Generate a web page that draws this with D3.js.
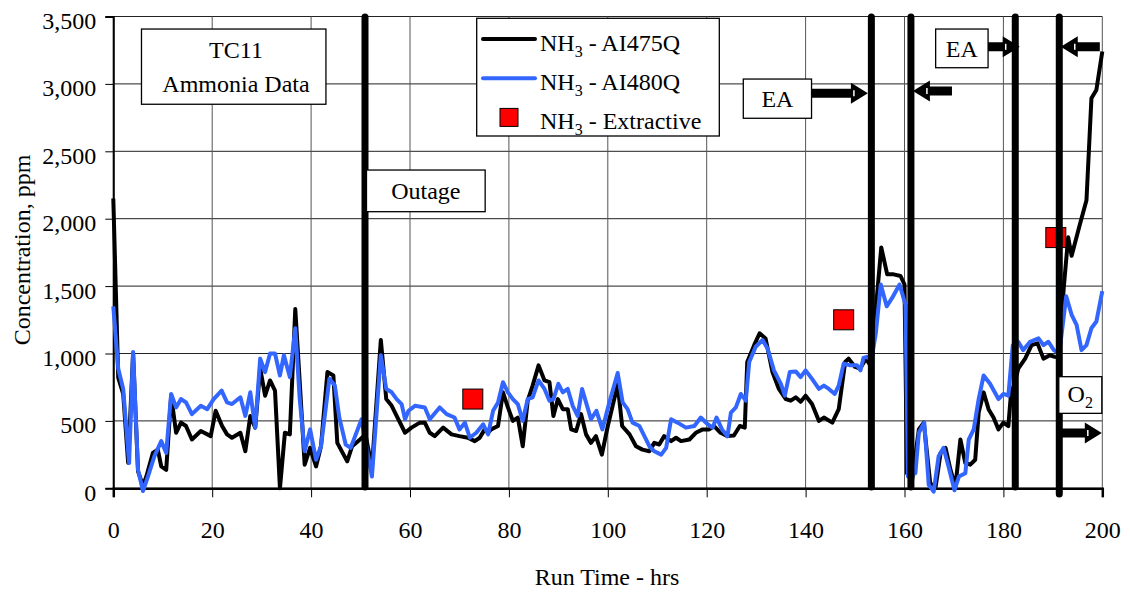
<!DOCTYPE html>
<html>
<head>
<meta charset="utf-8">
<script src="https://cdn.jsdelivr.net/npm/d3@7"></script>
<style>
  body { margin: 0; background: #fff; }
  text { font-family: "Liberation Serif", "Times New Roman", serif; fill: #000; }
</style>
</head>
<body>
<svg id="chart" width="1130" height="592"></svg>
<script>
"use strict";

// NH3 - AI475Q (black)
const hrs475 = [0, 1, 2, 3, 4, 5, 6, 6.7, 8, 9, 9.7, 10.7, 11.7, 12.7, 13.7, 14.7, 15.9, 17.7, 19.7, 20.7,
  22, 23, 24, 25.7, 26.7, 27.7, 28.7, 29.7, 30.7, 31.7, 32.7, 33.7, 34.7, 35.7, 36.8, 37.7, 38.7, 39.8, 41, 42,
  43.3, 44.5, 45.3, 47.3, 48.3, 49.9, 51, 52.3, 54.1, 55.2, 56.3, 57.3, 59, 60.3, 62, 63, 64, 65, 66.7, 68.4,
  70, 71.7, 73.1, 74.1, 75.1, 75.8, 76.4, 77.8, 78.8, 79.8, 80.8, 81.8, 82.8, 83.8, 84.8, 86, 87.2, 88.2, 89, 89.9,
  90.9, 91.9, 92.6, 93.6, 94.6, 95.6, 96.6, 97.6, 98.8, 100, 102, 102.9, 104.4, 105.7, 107, 108.4, 109.4, 110.4, 111.4, 112.8,
  113.8, 114.8, 116.5, 117.8, 119.2, 120.5, 121.5, 122.8, 124.2, 125.5, 126.7, 127.7, 128.2, 129.6, 130.7, 131.9, 133.3, 134.6, 136, 137,
  138, 139, 140, 141.3, 142.7, 143.7, 145.4, 146.7, 148, 148.7, 150, 151, 152.2, 153.3, 154.4, 155.3, 156.5, 157.8, 159.2, 160,
  160.5, 161.5, 162.9, 163.9, 165.2, 166.3, 167.3, 168.3, 169.3, 170.3, 171.3, 172.3, 173.3, 174.3, 175, 176, 177, 178, 179, 180,
  181, 181.5, 182.4, 183, 184.4, 185.7, 186.9, 188.1, 189.4, 190.4, 191.3, 192.2, 193.1, 193.8, 195.5, 196.8, 197.8, 198.8, 200];
const ppm475 = [2150, 820, 700, 190, 1000, 125, 20, 90, 262, 287, 162, 137, 687, 412, 487, 462, 362, 425, 387, 575,
  462, 400, 375, 412, 275, 537, 450, 890, 687, 800, 725, 0, 412, 400, 1330, 787, 175, 300, 162, 312,
  862, 837, 337, 200, 312, 362, 400, 150, 1100, 662, 612, 537, 412, 450, 487, 487, 412, 387, 450, 400,
  387, 375, 350, 375, 437, 412, 437, 462, 712, 600, 500, 525, 312, 650, 762, 912, 800, 787, 537, 662,
  587, 587, 437, 425, 550, 400, 337, 387, 250, 462, 770, 462, 400, 312, 287, 275, 337, 325, 387, 350,
  375, 350, 362, 412, 437, 437, 462, 412, 387, 392, 462, 450, 937, 1062, 1150, 1112, 862, 737, 662, 650,
  675, 642, 687, 625, 500, 525, 487, 587, 937, 962, 900, 887, 962, 900, 1412, 1787, 1587, 1587, 1575, 1512,
  112, 50, 437, 487, 37, 12, 262, 300, 137, 12, 362, 187, 175, 212, 562, 712, 587, 525, 437, 487,
  462, 687, 800, 887, 962, 1062, 1075, 962, 987, 975, 970, 1487, 1862, 1725, 1962, 2137, 2893, 2955, 3240];

// NH3 - AI480Q (blue)
const hrs480 = [0, 1, 2, 3.2, 4, 5, 6, 7, 8.3, 9.7, 10.7, 11.7, 12.7, 13.7, 14.7, 15.9, 17.7, 19, 20.3, 21.9,
  23, 24, 25.7, 26.7, 27.7, 28.7, 29.7, 30.7, 31.7, 32.7, 33.7, 34.5, 35.7, 36.8, 37.7, 38.7, 39.8, 41, 42, 43.7,
  44.8, 45.7, 47, 48, 50.2, 52.3, 54.1, 55.2, 56.3, 57.3, 58.3, 59, 59.7, 61, 63, 64, 66, 67.4, 69, 70,
  71.1, 72.1, 73.4, 74.8, 75.8, 76.8, 77.8, 78.8, 79.8, 80.8, 81.8, 82.8, 83.8, 84.8, 86, 87.2, 88.2, 89, 90, 90.9,
  91.9, 92.9, 93.9, 94.8, 95.6, 96.6, 97.7, 98.9, 100.3, 102, 103, 104, 105, 106.4, 107.4, 108.4, 109.4, 110.8, 111.8, 112.8,
  114.1, 115.8, 117.5, 118.8, 120.2, 121.2, 122, 123.1, 124.2, 124.9, 125.9, 126.9, 127.9, 128.6, 129.9, 131.3, 132.3, 133.6, 135, 135.8,
  136.8, 138, 139, 140, 141.3, 142.7, 143.7, 144.7, 145.9, 146.7, 147.7, 149, 150.4, 151.1, 151.7, 152.4, 153.3, 154.2, 155.2, 156.4,
  157.5, 159, 160.2, 160.7, 162.2, 162.9, 164, 164.9, 165.9, 166.9, 167.9, 168.9, 170.1, 171, 172.3, 173, 174, 175, 176, 177.3,
  179, 180, 181, 181.9, 183, 184, 185.4, 187.1, 188.1, 189.1, 190.2, 191.3, 192.7, 193.8, 194.8, 195.8, 196.8, 197.8, 198.8, 200];
const ppm480 = [1350, 887, 737, 187, 1012, 137, -20, 87, 237, 350, 262, 700, 600, 662, 637, 550, 612, 587, 662, 725,
  637, 625, 675, 537, 712, 450, 962, 862, 1000, 1000, 837, 987, 825, 1187, 662, 275, 437, 212, 312, 812,
  762, 525, 325, 300, 512, 87, 987, 737, 712, 662, 625, 512, 575, 612, 600, 512, 600, 550, 525, 437,
  487, 375, 412, 475, 400, 575, 637, 787, 712, 662, 625, 500, 662, 675, 800, 737, 650, 662, 775, 712,
  737, 612, 537, 737, 637, 512, 575, 437, 637, 855, 637, 587, 487, 462, 387, 312, 275, 250, 300, 512,
  487, 450, 462, 525, 475, 450, 525, 437, 387, 562, 600, 700, 650, 937, 1050, 1100, 1037, 875, 775, 687,
  862, 867, 825, 875, 812, 737, 762, 737, 700, 762, 925, 912, 912, 875, 967, 975, 950, 1150, 1512, 1350,
  1412, 1512, 1362, 87, 112, 412, 487, 25, -25, 237, 300, 162, -15, 87, 112, 362, 437, 662, 837, 775,
  662, 700, 687, 1062, 1087, 1025, 1087, 1112, 1062, 1087, 1025, 1000, 1425, 1287, 1212, 1025, 1062, 1187, 1237, 1462];

// NH3 - Extractive (red squares)
const hrsExtractive = [72.7, 147.7, 190.6];
const ppmExtractive = [662, 1250, 1860];

// event markers (thick vertical lines)
const eventHrs = [50.9, 153.3, 161.3, 182.4, 191.3];

const xTicks = d3.range(0, 201, 20);
const yTicks = d3.range(0, 3501, 500);

const svg = d3.select("#chart");
const plotL = 113.3, plotR = 1102.3, plotT = 16.5, plotB = 488.3;
const FS = "24px", SUB = "16px";

const x = d3.scaleLinear().domain([0, 200]).range([plotL, plotR]);
const y = d3.scaleLinear().domain([0, 3500]).range([plotB, plotT]);

svg.append("rect").attr("width", 1130).attr("height", 592).attr("fill", "#fff");

// grid
svg.append("g").selectAll("line").data(yTicks).enter().append("line")
  .attr("x1", plotL).attr("x2", plotR)
  .attr("y1", d => y(d)).attr("y2", d => y(d))
  .attr("stroke", "#222").attr("stroke-width", 1);
svg.append("g").selectAll("line").data(xTicks).enter().append("line")
  .attr("x1", d => x(d)).attr("x2", d => x(d))
  .attr("y1", plotT).attr("y2", plotB)
  .attr("stroke", "#555").attr("stroke-width", 1);

// axes
const xAxis = svg.append("g").attr("transform", "translate(0," + plotB + ")")
  .call(d3.axisBottom(x).tickValues(xTicks).tickSize(9).tickPadding(24).tickFormat(d3.format("d")));
const yAxis = svg.append("g").attr("transform", "translate(" + plotL + ",0)")
  .call(d3.axisLeft(y).tickValues(yTicks).tickSize(8).tickPadding(9).tickFormat(d3.format(",")));
[xAxis, yAxis].forEach(a => {
  a.selectAll("text").style("font-size", FS).style("font-family", "Liberation Serif");
  a.selectAll("line").attr("stroke", "#000");
});
xAxis.select(".domain").attr("stroke-width", 2.5);
yAxis.select(".domain").attr("stroke-width", 2);
yAxis.selectAll("text").attr("dy", "0.5em");

// series
const line = d3.line().x(d => x(d[0])).y(d => y(d[1]));
svg.append("path").datum(d3.zip(hrs475, ppm475))
  .attr("d", line).attr("fill", "none").attr("stroke", "#000")
  .attr("stroke-width", 4).attr("stroke-linejoin", "round");
svg.append("path").datum(d3.zip(hrs480, ppm480))
  .attr("d", line).attr("fill", "none").attr("stroke", "#3366ff")
  .attr("stroke-width", 4).attr("stroke-linejoin", "round");

svg.append("g").selectAll("rect").data(d3.zip(hrsExtractive, ppmExtractive)).enter().append("rect")
  .attr("x", d => x(d[0]) - 10).attr("y", d => y(d[1]) - 10)
  .attr("width", 20).attr("height", 20)
  .attr("fill", "#ff0000").attr("stroke", "#000").attr("stroke-width", 1);

// event lines
svg.append("g").selectAll("line").data(eventHrs).enter().append("line")
  .attr("x1", d => x(d)).attr("x2", d => x(d))
  .attr("y1", 17).attr("y2", (d, i) => i === eventHrs.length - 1 ? 494 : 487)
  .attr("stroke", "#000").attr("stroke-width", 7).attr("stroke-linecap", "round");

// annotation boxes
function box(x0, y0, x1, y1) {
  const g = svg.append("g");
  g.append("rect").attr("x", x0).attr("y", y0).attr("width", x1 - x0).attr("height", y1 - y0)
    .attr("fill", "#fff").attr("stroke", "#000").attr("stroke-width", 1.3);
  return g;
}
let g = box(x(5.7), y(3407), x(43), y(2849));
g.append("text").attr("x", 236).attr("y", 58).attr("text-anchor", "middle").style("font-size", FS).text("TC11");
g.append("text").attr("x", 236).attr("y", 92).attr("text-anchor", "middle").style("font-size", FS).text("Ammonia Data");

g = box(x(51.2), y(2361), x(75.2), y(2052));
g.append("text").attr("x", (x(51.2) + x(75.2)) / 2).attr("y", 199).attr("text-anchor", "middle").style("font-size", FS).text("Outage");

g = box(x(127.4), y(3036), x(141.2), y(2745));
g.append("text").attr("x", (x(127.4) + x(141.2)) / 2).attr("y", 107).attr("text-anchor", "middle").style("font-size", FS).text("EA");

g = box(x(166.3), y(3407), x(176.9), y(3120));
g.append("text").attr("x", (x(166.3) + x(176.9)) / 2).attr("y", 57).attr("text-anchor", "middle").style("font-size", FS).text("EA");

g = box(x(191.2), y(828), x(199.9), y(556));
const o2 = g.append("text").attr("x", (x(191.2) + x(199.9)) / 2).attr("y", 402).attr("text-anchor", "middle").style("font-size", FS);
o2.append("tspan").text("O");
o2.append("tspan").attr("dy", 6).style("font-size", SUB).text("2");

// block arrows
function arrow(hTail, hTip, v) {
  const xt = x(hTail), xp = x(hTip), yy = y(v);
  const dir = xp > xt ? 1 : -1;
  const xh = xp - dir * 17;
  const pts = [[xt, yy - 4.5], [xh, yy - 4.5], [xh, yy - 10.5], [xp, yy], [xh, yy + 10.5], [xh, yy + 4.5], [xt, yy + 4.5]];
  svg.append("polygon").attr("points", pts.map(p => p.join(",")).join(" ")).attr("fill", "#000");
  svg.append("line").attr("x1", xh + dir * 3).attr("x2", xh + dir * 3)
    .attr("y1", yy - 3).attr("y2", yy + 3).attr("stroke", "#fff").attr("stroke-width", 1.5);
}
arrow(141.1, 152.6, 2930);
arrow(169.6, 161.7, 2947);
arrow(176.9, 183.3, 3275);
arrow(199.5, 191.6, 3275);
arrow(191.8, 199.9, 410);

// legend
const lg = svg.append("g");
lg.append("rect").attr("x", 476.7).attr("y", 18.3).attr("width", 242.6).attr("height", 117.7)
  .attr("fill", "#fff").attr("stroke", "#000").attr("stroke-width", 1.3);
const legendItems = [
  { name: "AI475Q", color: "#000", type: "line" },
  { name: "AI480Q", color: "#3366ff", type: "line" },
  { name: "Extractive", color: "#ff0000", type: "rect" }
];
legendItems.forEach((d, i) => {
  const yy = 39 + i * 39.2;
  if (d.type === "line") {
    lg.append("line").attr("x1", 483).attr("x2", 535).attr("y1", yy).attr("y2", yy)
      .attr("stroke", d.color).attr("stroke-width", 4).attr("stroke-linecap", "round");
  } else {
    lg.append("rect").attr("x", 500).attr("y", yy - 9).attr("width", 18).attr("height", 18)
      .attr("fill", d.color).attr("stroke", "#000").attr("stroke-width", 1);
  }
  const t = lg.append("text").attr("x", 540).attr("y", yy + 12).style("font-size", FS);
  t.append("tspan").text("NH");
  t.append("tspan").attr("dy", 6).style("font-size", SUB).text("3");
  t.append("tspan").attr("dy", -6).text(" - " + d.name);
});

// axis titles
svg.append("text").attr("x", 607).attr("y", 585).attr("text-anchor", "middle")
  .style("font-size", FS).text("Run Time - hrs");
svg.append("text").attr("transform", "translate(30,250) rotate(-90)").attr("text-anchor", "middle")
  .style("font-size", FS).text("Concentration, ppm");
</script>
</body>
</html>
